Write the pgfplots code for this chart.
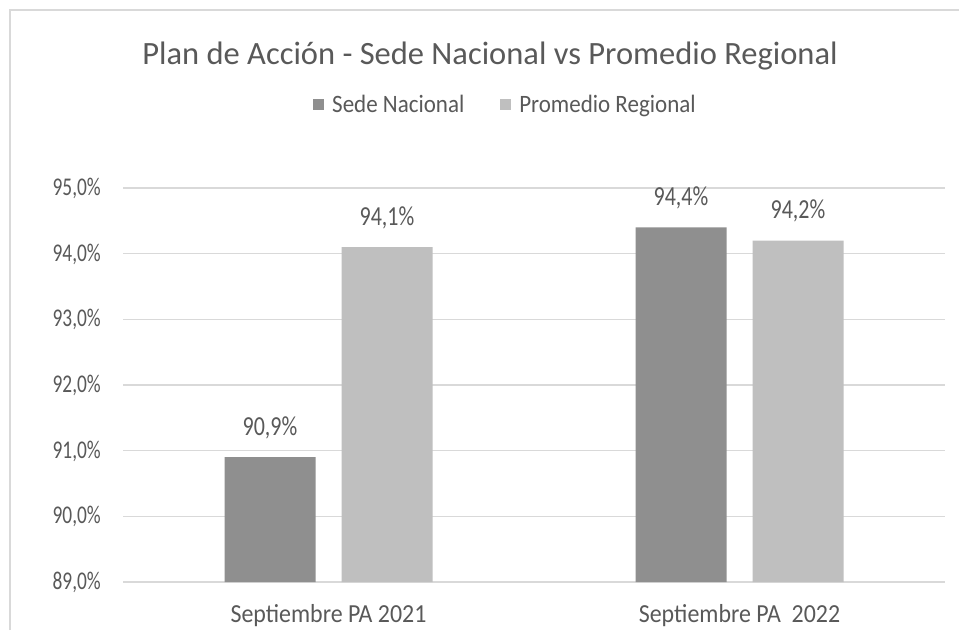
\documentclass[border=0pt]{standalone}
\usepackage{fontspec}
\setmainfont{Carlito}
\newfontfamily\numfont{Carlito}[FakeStretch=0.76]
\newfontfamily\lblfont{Carlito}[FakeStretch=0.8]
\newfontfamily\txtfont{Carlito}[FakeStretch=0.92]
\usepackage{pgfplots}
\pgfplotsset{compat=1.18}
\definecolor{txt}{HTML}{595959}
\definecolor{gridc}{HTML}{D9D9D9}
\definecolor{darkbar}{HTML}{8F8F8F}
\definecolor{lightbar}{HTML}{BFBFBF}
\begin{document}
\begin{tikzpicture}
\useasboundingbox (0,0) rectangle (959pt,630pt);
\fill[white] (0,0) rectangle (959pt,630pt);
\draw[gridc, line width=2.5pt] (10pt,0) -- (10pt,620pt) -- (959pt,620pt);
\node[txt, anchor=base, inner sep=0pt, font=\fontsize{32.5}{38}\selectfont] at (490pt,565.5pt) {Plan de Acción - Sede Nacional vs Promedio Regional};
\begin{axis}[
  at={(123pt,48pt)}, anchor=south west, scale only axis,
  width=822pt, height=394pt,
  ybar=26pt, bar width=91pt,
  xmin=-0.5, xmax=1.5, ymin=89, ymax=95,
  ytick={89,90,...,95}, xtick={0,1},
  xticklabels={Septiembre PA 2021, Septiembre PA\ \ 2022},
  ymajorgrids, grid style={gridc, line width=1.5pt},
  axis line style={draw=none}, major tick length=0pt, tick style={draw=none},
  /pgf/number format/assume math mode=true,
  yticklabel={\pgfmathprintnumber[fixed,fixed zerofill,precision=1,use comma]{\tick}\%},
  yticklabel style={txt, font=\numfont\fontsize{25.5}{30}\selectfont, anchor=base east, inner sep=0pt, xshift=-22pt, yshift=-7.5pt},
  xticklabel style={txt, font=\txtfont\fontsize{26}{30}\selectfont, anchor=base, inner sep=0pt, yshift=-40pt},
  nodes near coords={\pgfmathprintnumber[fixed,fixed zerofill,precision=1,use comma]{\pgfplotspointmeta}\%},
  nodes near coords style={txt, font=\lblfont\fontsize{27.5}{32}\selectfont, anchor=base, inner sep=0pt, yshift=22pt},
  legend style={at={(0.464,1.212)}, anchor=center, draw=none, fill=none,
    legend columns=2, font=\txtfont\fontsize{25}{29}\selectfont, text=txt,
    nodes={inner sep=0pt},
    /tikz/every odd column/.append style={column sep=8pt},
    /tikz/every even column/.append style={column sep=36pt}},
  legend cell align=left,
  legend image code/.code={\fill[#1] (0pt,-5.5pt) rectangle (11pt,5.5pt);},
]
\addplot[fill=darkbar, draw=none] coordinates {(0,90.9) (1,94.4)};
\addplot[fill=lightbar, draw=none] coordinates {(0,94.1) (1,94.2)};
\legend{Sede Nacional, Promedio Regional}
\end{axis}
\end{tikzpicture}
\end{document}
